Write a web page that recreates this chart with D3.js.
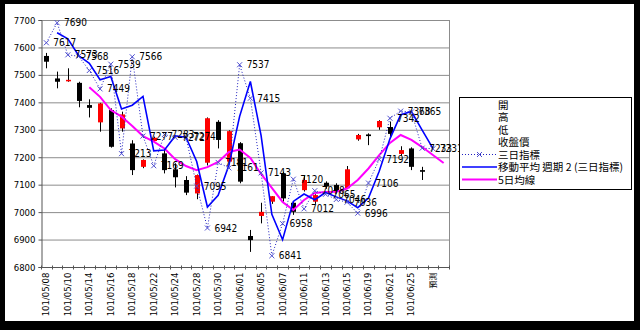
<!DOCTYPE html>
<html>
<head>
<meta charset="utf-8">
<script src="https://cdn.jsdelivr.net/npm/d3@7"></script>
<style>
  html, body { margin: 0; padding: 0; background: #000; }
  svg { display: block; }
</style>
</head>
<body>
<svg id="chart" width="640" height="330"></svg>
<script>
// Trading days (ROC calendar) plus the forecast slot
const categories = [
  "101/05/08","101/05/09","101/05/10","101/05/11","101/05/14","101/05/15","101/05/16","101/05/17","101/05/18",
  "101/05/21","101/05/22","101/05/23","101/05/24","101/05/25","101/05/28","101/05/29","101/05/30","101/05/31",
  "101/06/01","101/06/04","101/06/05","101/06/06","101/06/07","101/06/08","101/06/11","101/06/12","101/06/13",
  "101/06/14","101/06/15","101/06/18","101/06/19","101/06/20","101/06/21","101/06/22","101/06/25","101/06/26",
  "預測",""
];

// Daily OHLC
const openVals  = [7569,7487,7480,7471,7390,7327,7372,7305,7250,7165,7259,7214,7156,7117,7068,7180,7329,7184,7251,6913,6986,7038,7141,7034,7080,7038,7107,7099,7087,7265,7283,7309,7310,7212,7232,7153];
const highVals  = [7580,7512,7524,7475,7411,7398,7378,7366,7262,7192,7275,7226,7178,7131,7137,7345,7335,7298,7255,6935,7034,7058,7147,7040,7135,7065,7112,7105,7168,7285,7287,7335,7330,7240,7236,7165];
const lowVals   = [7524,7451,7475,7382,7345,7293,7235,7293,7135,7160,7255,7141,7090,7062,7047,7170,7232,7176,7105,6855,6959,7030,7038,6990,7075,7030,7085,7068,7085,7260,7244,7300,7275,7205,7153,7117];
const closeVals = [7548,7475,7482,7405,7380,7396,7238,7356,7153,7190,7271,7153,7127,7071,7135,7342,7263,7295,7111,6898,7001,7058,7050,7001,7117,7062,7093,7074,7156,7281,7277,7332,7285,7226,7165,7147];

// Three-day indicator
const threeDay = [7617,7690,7573,7568,7516,7449,7539,7213,7566,7277,7169,7283,7272,7274,7095,6942,7181,7161,7537,7415,7143,6841,6958,7120,7012,7078,7065,7046,7036,6996,7106,7192,7342,7368,7365,7233,7231];

// 5-day average line
const ma5 = [null,null,null,null,7455,7420,7372,7348,7314,7277,7257,7232,7193,7168,7153,7164,7183,7219,7228,7197,7139,7088,7037,7008,7044,7070,7073,7074,7086,7117,7159,7208,7252,7281,7263,7237,7208,7179];

const yTicks = [6800,6900,7000,7100,7200,7300,7400,7500,7600,7700];

const legendItems = ["開","高","低","收盤價","三日指標","移動平均 週期 2 (三日指標)","5日均線"];

const svg = d3.select("#chart");
const plot = { left: 41, right: 449, top: 20, bottom: 267 };

// white chart area inside the black frame
svg.append("rect").attr("x", 5).attr("y", 4).attr("width", 629).attr("height", 317).attr("fill", "#fff");

const x = d3.scaleBand().domain(d3.range(categories.length)).range([plot.left, plot.right]).padding(0);
const y = d3.scaleLinear().domain([6800, 7700]).range([plot.bottom, plot.top]);
const cx = i => x(i) + x.bandwidth() / 2;

const numFont = "'Liberation Sans Narrow','DejaVu Sans Condensed','Liberation Sans',sans-serif";

// gridlines
svg.append("g").selectAll("line").data(yTicks).join("line")
  .attr("x1", plot.left).attr("x2", plot.right)
  .attr("y1", d => y(d) + 0.5).attr("y2", d => y(d) + 0.5)
  .attr("stroke", "#8c8c8c").attr("stroke-width", 1);

// plot border (right side)
svg.append("line").attr("x1", plot.right + 0.5).attr("x2", plot.right + 0.5)
  .attr("y1", plot.top).attr("y2", plot.bottom).attr("stroke", "#8c8c8c");

// y axis
const yAxis = d3.axisLeft(y).tickValues(yTicks).tickSize(3).tickPadding(3).tickFormat(d3.format("d"));
const gy = svg.append("g").attr("transform", `translate(${plot.left + 0.5},0)`).call(yAxis);
gy.select(".domain").attr("stroke", "#555");
gy.selectAll(".tick line").attr("stroke", "#555");
gy.selectAll("text").attr("font-family", numFont).attr("font-size", 9.5).attr("fill", "#000");

// x axis: tick marks between categories, label every other category
const gx = svg.append("g").attr("transform", `translate(0,${plot.bottom + 0.5})`);
gx.append("line").attr("x1", plot.left).attr("x2", plot.right).attr("stroke", "#555");
gx.selectAll("line.tk").data(d3.range(categories.length + 1)).join("line").attr("class", "tk")
  .attr("x1", i => Math.round(plot.left + i * x.bandwidth()) + 0.5)
  .attr("x2", i => Math.round(plot.left + i * x.bandwidth()) + 0.5)
  .attr("y1", -2).attr("y2", 2).attr("stroke", "#555");
gx.selectAll("text").data(d3.range(0, categories.length, 2)).join("text")
  .attr("transform", i => `translate(${cx(i) + 3},5) rotate(-90)`)
  .attr("text-anchor", "end")
  .attr("font-family", i => categories[i] === "預測" ? "'Noto Sans CJK TC',sans-serif" : numFont)
  .attr("font-size", i => categories[i] === "預測" ? 8 : 9.5)
  .text(i => categories[i]);

// candlesticks
const candles = d3.range(closeVals.length).map(i => ({
  i, o: openVals[i], h: highVals[i], l: lowVals[i], c: closeVals[i]
}));
const cg = svg.append("g");
cg.selectAll("line").data(candles).join("line")
  .attr("x1", d => Math.round(cx(d.i)) + 0.5).attr("x2", d => Math.round(cx(d.i)) + 0.5)
  .attr("y1", d => y(d.h)).attr("y2", d => y(d.l))
  .attr("stroke", "#000").attr("stroke-width", 1);
cg.selectAll("rect").data(candles).join("rect")
  .attr("x", d => Math.round(cx(d.i)) - 2)
  .attr("width", 5)
  .attr("y", d => y(Math.max(d.o, d.c)))
  .attr("height", d => Math.max(1.5, Math.abs(y(d.o) - y(d.c))))
  .attr("fill", d => d.c >= d.o ? "#ff0000" : "#000");

// 5-day average
const line = d3.line().defined(d => d[1] != null).x(d => cx(d[0])).y(d => y(d[1]));
svg.append("path").datum(ma5.map((v, i) => [i, v]))
  .attr("d", line).attr("fill", "none").attr("stroke", "#ff00ff").attr("stroke-width", 2);

// moving average trendline, period 2, of the three-day indicator
const ma2 = threeDay.map((v, i) => [i, i < 1 ? null : (threeDay[i - 1] + v) / 2]);
svg.append("path").datum(ma2)
  .attr("d", line).attr("fill", "none").attr("stroke", "#0000ff").attr("stroke-width", 1.6);

// three-day indicator (dotted with x markers)
svg.append("path").datum(threeDay.map((v, i) => [i, v]))
  .attr("d", line).attr("fill", "none").attr("stroke", "#2020c0").attr("stroke-width", 1)
  .attr("stroke-dasharray", "1,2");
svg.append("g").selectAll("path").data(threeDay).join("path")
  .attr("d", (v, i) => { const X = cx(i), Y = y(v), s = 2.5;
    return `M${X - s},${Y - s}L${X + s},${Y + s}M${X - s},${Y + s}L${X + s},${Y - s}`; })
  .attr("stroke", "#5050d0").attr("stroke-width", 1).attr("fill", "none");
svg.append("g").selectAll("text").data(threeDay).join("text")
  .attr("x", (v, i) => cx(i) + 7).attr("y", v => y(v) + 3.5)
  .attr("font-family", numFont).attr("font-size", 10).attr("fill", "#000")
  .text(v => v);

// legend
const lg = svg.append("g");
lg.append("rect").attr("x", 459.5).attr("y", 97.5).attr("width", 172).attr("height", 92)
  .attr("fill", "#fff").attr("stroke", "#000");
const ly = i => 104.5 + i * 12.5;
lg.selectAll("text").data(legendItems).join("text")
  .attr("x", 498).attr("y", (d, i) => ly(i) + 4)
  .attr("font-family", "'Noto Sans CJK TC',sans-serif").attr("font-size", 10.5)
  .text(d => d);
lg.append("line").attr("x1", 462).attr("x2", 497).attr("y1", ly(4)).attr("y2", ly(4))
  .attr("stroke", "#2020c0").attr("stroke-dasharray", "1,2");
lg.append("path").attr("d", `M${479.5 - 2.5},${ly(4) - 2.5}l5,5m-5,0l5,-5`).attr("stroke", "#5050d0");
lg.append("line").attr("x1", 462).attr("x2", 497).attr("y1", ly(5)).attr("y2", ly(5))
  .attr("stroke", "#0000ff").attr("stroke-width", 1.6);
lg.append("line").attr("x1", 462).attr("x2", 497).attr("y1", ly(6)).attr("y2", ly(6))
  .attr("stroke", "#ff00ff").attr("stroke-width", 2);
</script>
</body>
</html>
